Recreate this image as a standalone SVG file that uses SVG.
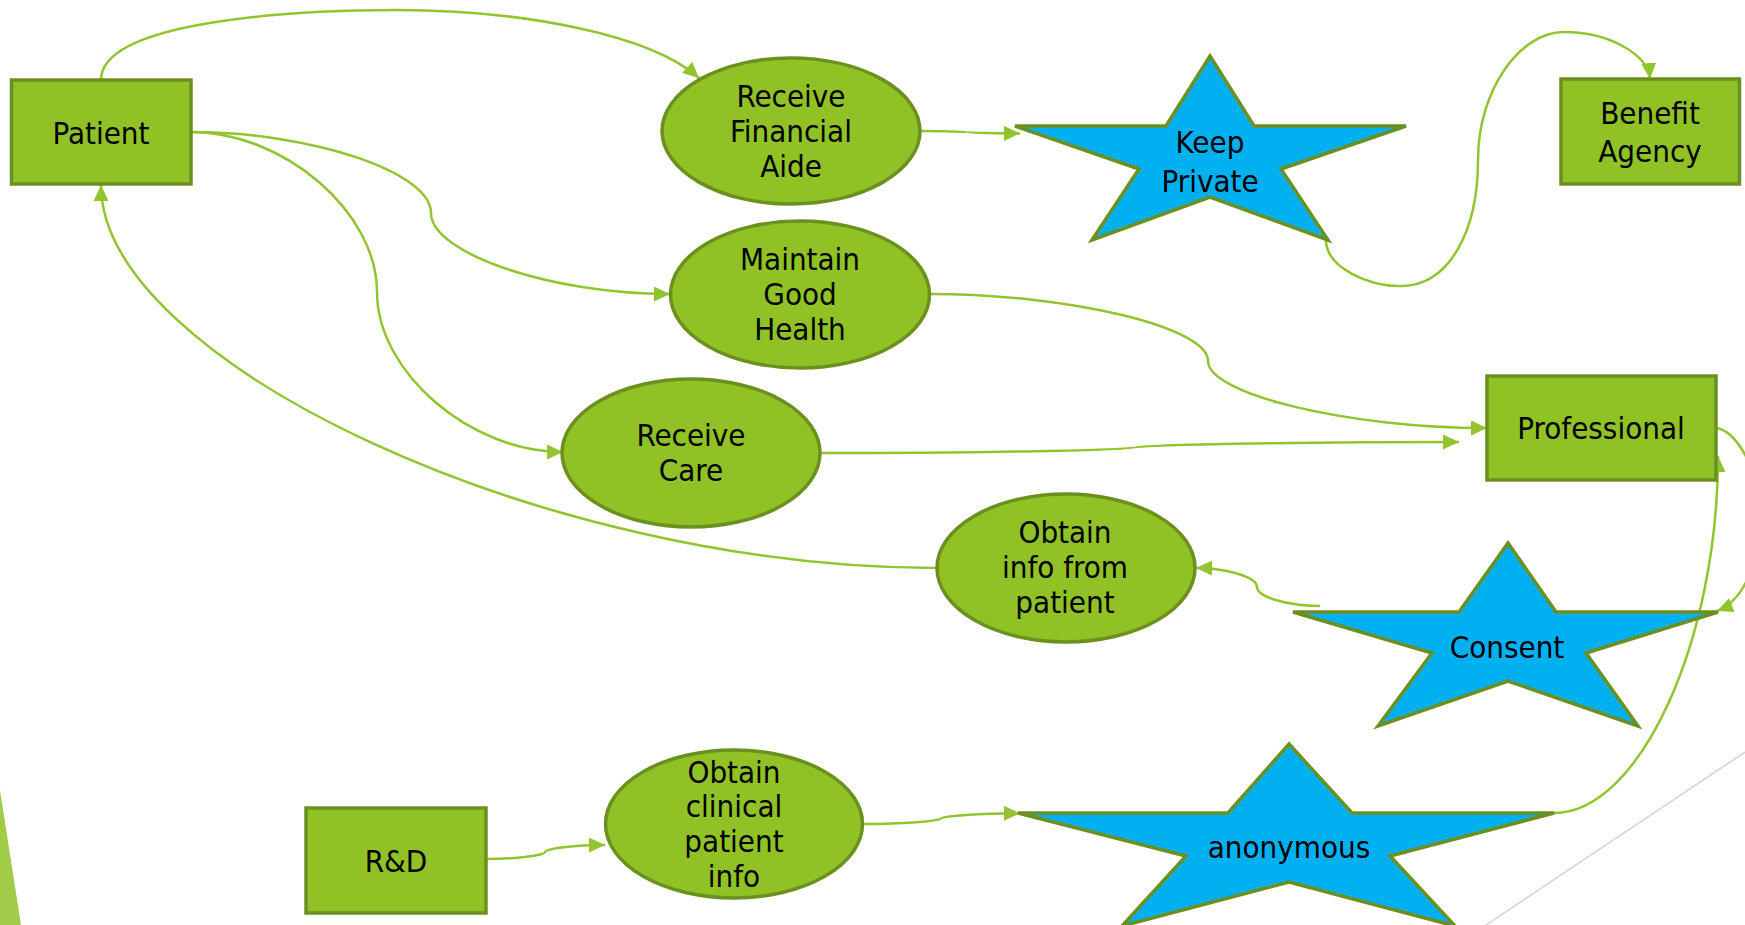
<svg xmlns="http://www.w3.org/2000/svg" width="1745" height="925" viewBox="0 0 1745 925">
  <defs>
    <marker id="arrow" markerUnits="userSpaceOnUse" markerWidth="17" markerHeight="16" refX="16" refY="7.5" orient="auto">
      <path d="M0,0 L16,7.5 L0,15 z" fill="#92c430"/>
    </marker>
    <style>
      .box { fill: #90c226; stroke: #6b9020; stroke-width: 3.5; }
      .oval { fill: #90c226; stroke: #6b9020; stroke-width: 3.5; }
      .star { fill: #00b0f0; stroke: #6b9020; stroke-width: 3.5; stroke-linejoin: miter; }
      .label { font-family: "DejaVu Sans", "Liberation Sans", sans-serif; font-stretch: condensed; font-size: 31px; fill: #000; text-anchor: middle; }
      .conn { fill: none; stroke: #92c430; stroke-width: 2.5; }
      .arrowed { marker-end: url(#arrow); }
    </style>
  </defs>

  <rect width="1745" height="925" fill="#ffffff"/>

  <!-- decorative theme accents -->
  <polygon points="0,790 21,925 0,925" fill="#a3cb4a"/>
  <line x1="1486" y1="925" x2="1745" y2="752" stroke="#d3d3d3" stroke-width="1.5"/>

  <!-- connectors -->
  <g id="connectors">
    <path class="conn arrowed" d="M101 80 C101 20 300 10 396 10 C520 10 650 34 699 78"/>
    <path class="conn arrowed" d="M191 132 C311 132 431 172 431 213 C431 253 550 294 670 294"/>
    <path class="conn arrowed" d="M191 132 C284 132 377 212 377 292 C377 372 470 452 563 452"/>
    <path class="conn arrowed" d="M937 568 C540 568 101 360 101 185"/>
    <path class="conn arrowed" d="M920 131 C944 131 968 131.6 968 132.3 C968 133 994 133.4 1020 133.4"/>
    <path class="conn arrowed" d="M1326 240 C1326 268 1370 287 1402 286 C1450 285 1478 230 1478 160 C1478 90 1520 32 1564 32 C1610 32 1648 55 1650 79"/>
    <path class="conn arrowed" d="M930 294 C1069 294 1208 327 1208 361 C1208 394 1347 428 1487 428"/>
    <path class="conn arrowed" d="M820 453 C977 453 1134 450 1134 447.5 C1134 445 1297 442 1459 442"/>
    <path class="conn arrowed" d="M1715 428 C1735 428 1760 470 1760 515 C1760 560 1745 600 1717 611"/>
    <path class="conn arrowed" d="M1320 606 C1288 606 1257 597 1257 587 C1257 577 1226 568 1196 568"/>
    <path class="conn arrowed" d="M486 859 C516 859 545 855.5 545 852 C545 848.5 575 845 605 845"/>
    <path class="conn arrowed" d="M863 824 C902 824 941 821 941 818.5 C941 816 981 813.3 1020 813.3"/>
    <path class="conn arrowed" d="M1554 813 C1640 813 1718 640 1718 456"/>
  </g>

  <!-- nodes -->
  <g id="patient">
    <rect class="box" x="11.5" y="80" width="179.5" height="104"/>
    <text class="label" x="101" y="144">Patient</text>
  </g>

  <g id="benefit-agency">
    <rect class="box" x="1561" y="79" width="178.5" height="105"/>
    <text class="label" x="1650" y="124">Benefit</text>
    <text class="label" x="1650" y="162">Agency</text>
  </g>

  <g id="professional">
    <rect class="box" x="1487" y="376" width="229" height="104"/>
    <text class="label" x="1601" y="439">Professional</text>
  </g>

  <g id="rnd">
    <rect class="box" x="306" y="808" width="180" height="105"/>
    <text class="label" x="396" y="872">R&amp;D</text>
  </g>

  <g id="receive-financial-aide">
    <ellipse class="oval" cx="791" cy="131" rx="129" ry="73"/>
    <text class="label" x="791" y="107">Receive</text>
    <text class="label" x="791" y="142">Financial</text>
    <text class="label" x="791" y="177">Aide</text>
  </g>

  <g id="maintain-good-health">
    <ellipse class="oval" cx="800" cy="294.5" rx="129.5" ry="73.5"/>
    <text class="label" x="800" y="270">Maintain</text>
    <text class="label" x="800" y="305">Good</text>
    <text class="label" x="800" y="340">Health</text>
  </g>

  <g id="receive-care">
    <ellipse class="oval" cx="691" cy="453" rx="129" ry="74"/>
    <text class="label" x="691" y="446">Receive</text>
    <text class="label" x="691" y="481">Care</text>
  </g>

  <g id="obtain-info">
    <ellipse class="oval" cx="1066" cy="568" rx="129" ry="74"/>
    <text class="label" x="1065" y="543">Obtain</text>
    <text class="label" x="1065" y="578">info from</text>
    <text class="label" x="1065" y="613">patient</text>
  </g>

  <g id="obtain-clinical">
    <ellipse class="oval" cx="734" cy="824" rx="128.5" ry="74"/>
    <text class="label" x="734" y="783">Obtain</text>
    <text class="label" x="734" y="817">clinical</text>
    <text class="label" x="734" y="852">patient</text>
    <text class="label" x="734" y="887">info</text>
  </g>

  <g id="keep-private">
    <polygon class="star" points="1210,56 1254,126 1406,126 1281,169 1328,240 1210,197 1092,240 1139,169 1015,126 1166,126"/>
    <text class="label" x="1210" y="153">Keep</text>
    <text class="label" x="1210" y="192">Private</text>
  </g>

  <g id="consent">
    <polygon class="star" points="1508,543 1556,612 1718,612 1586,653 1638,726 1508,681 1378,726 1432,653 1293,612 1459,612"/>
    <text class="label" x="1507" y="658">Consent</text>
  </g>

  <g id="anonymous">
    <polygon class="star" points="1289,744 1352,813 1554,813 1390,856 1455,926 1289,882 1122,926 1186,856 1018,813 1228,813"/>
    <text class="label" x="1289" y="858">anonymous</text>
  </g>
</svg>
